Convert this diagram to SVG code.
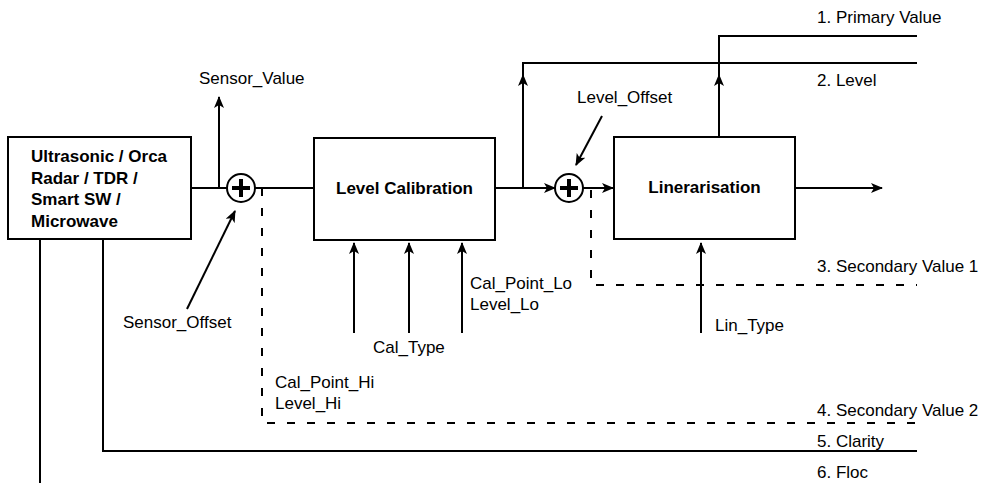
<svg xmlns="http://www.w3.org/2000/svg" width="997" height="483" viewBox="0 0 997 483">
<style>
.box{fill:#fff;stroke:#000;stroke-width:2}
.ln{fill:none;stroke:#000;stroke-width:2}
.dash{fill:none;stroke:#000;stroke-width:2;stroke-dasharray:8 12}
.arr{fill:none;stroke:#000;stroke-width:2;marker-end:url(#ah)}
.t{font-family:"Liberation Sans",Arial,sans-serif;font-size:17px;fill:#000}
.b{font-family:"Liberation Sans",Arial,sans-serif;font-size:17px;font-weight:bold;fill:#000}
.sum{fill:#fff;stroke:#000;stroke-width:2}
.plus{stroke:#000;stroke-width:4}
</style>
<defs>
<marker id="ah" viewBox="0 0 12 10" refX="11" refY="5" markerWidth="12" markerHeight="10" markerUnits="userSpaceOnUse" orient="auto">
<path d="M0,0 L12,5 L0,10 L3,5 z" fill="#000"/>
</marker>
</defs>
<g id="connectors">
<path class="ln" d="M191,188 H227"/>
<path class="arr" d="M219,188 V97"/>
<path class="ln" d="M255,188 H314"/>
<path class="arr" d="M495,188 H555"/>
<path class="arr" d="M583,188 H613"/>
<path class="arr" d="M795,188 H882"/>
<path class="arr" d="M523,188 V75"/>
<path class="ln" d="M523,76 V63 H917"/>
<path class="arr" d="M719,138 V75"/>
<path class="ln" d="M719,76 V36 H917"/>
<path class="dash" d="M262,188 V423 H917"/>
<path class="dash" d="M591,190 V285 H917"/>
<path class="ln" d="M103,239 V451 H917"/>
<path class="ln" d="M40,239 V483"/>
<path class="arr" d="M187,309 L235,211"/>
<path class="arr" d="M602,116 L576,165"/>
<path class="arr" d="M354,333 V243"/>
<path class="arr" d="M409,333 V243"/>
<path class="arr" d="M462,333 V243"/>
<path class="arr" d="M701,333 V243"/>
</g>
<g id="sensor">
<rect class="box" x="8" y="137" width="183" height="102"/>
<text class="b" x="31" y="162">Ultrasonic / Orca</text>
<text class="b" x="31" y="184">Radar / TDR /</text>
<text class="b" x="31" y="205">Smart SW /</text>
<text class="b" x="31" y="227">Microwave</text>
</g>
<g id="sum1">
<circle class="sum" cx="241" cy="188" r="14"/>
<path class="plus" d="M232,188 H250 M241,179 V197"/>
</g>
<g id="levelcal">
<rect class="box" x="314" y="138" width="181" height="102"/>
<text class="b" x="404.5" y="194" text-anchor="middle">Level Calibration</text>
</g>
<g id="sum2">
<circle class="sum" cx="569" cy="188" r="14"/>
<path class="plus" d="M560,188 H578 M569,179 V197"/>
</g>
<g id="linear">
<rect class="box" x="614" y="137" width="181" height="102"/>
<text class="b" x="704.5" y="193" text-anchor="middle">Linerarisation</text>
</g>
<g id="labels">
<text class="t" x="199" y="84">Sensor_Value</text>
<text class="t" x="123" y="328">Sensor_Offset</text>
<text class="t" x="577" y="103">Level_Offset</text>
<text class="t" x="373" y="353">Cal_Type</text>
<text class="t" x="470" y="289">Cal_Point_Lo</text>
<text class="t" x="470" y="310">Level_Lo</text>
<text class="t" x="275" y="388">Cal_Point_Hi</text>
<text class="t" x="275" y="409">Level_Hi</text>
<text class="t" x="715" y="331">Lin_Type</text>
<text class="t" x="817" y="23">1. Primary Value</text>
<text class="t" x="817" y="86">2. Level</text>
<text class="t" x="817" y="272">3. Secondary Value 1</text>
<text class="t" x="817" y="416">4. Secondary Value 2</text>
<text class="t" x="817" y="447">5. Clarity</text>
<text class="t" x="817" y="478">6. Floc</text>
</g>
</svg>
